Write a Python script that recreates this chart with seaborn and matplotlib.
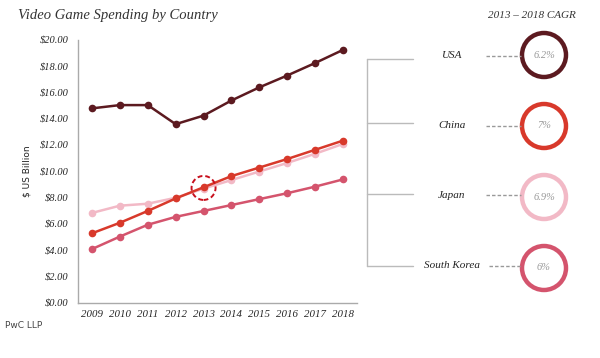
import matplotlib
matplotlib.use("Agg")
import matplotlib.pyplot as plt
from matplotlib.patches import Circle, Ellipse
import seaborn as sns
import pandas as pd

years = [2009, 2010, 2011, 2012, 2013, 2014, 2015, 2016, 2017, 2018]
usa = [14.8, 15.05, 15.05, 13.6, 14.25, 15.4, 16.4, 17.3, 18.25, 19.25]
china = [5.3, 6.1, 7.0, 7.95, 8.8, 9.65, 10.3, 10.95, 11.65, 12.35]
japan = [6.85, 7.4, 7.55, 8.0, 8.7, 9.35, 10.0, 10.65, 11.35, 12.1]
south_korea = [4.1, 5.05, 5.95, 6.55, 7.0, 7.45, 7.9, 8.35, 8.85, 9.4]
countries = ["USA", "China", "Japan", "South Korea"]
cagr = ["6.2%", "7%", "6.9%", "6%"]
colors = ["#5c1a20", "#d8392b", "#f2b9c6", "#d4546d"]
yticks = [0, 2, 4, 6, 8, 10, 12, 14, 16, 18, 20]

sns.set_style("white")
plt.rcParams["font.family"] = ["Liberation Serif", "DejaVu Serif"]

df = pd.DataFrame({
    "year": years * 4,
    "value": usa + china + japan + south_korea,
    "country": sum([[c] * len(years) for c in countries], []),
})

fig = plt.figure(figsize=(6.0, 3.58), dpi=100)
ax = fig.add_axes([78 / 600, 1 - 303 / 358, (357 - 78) / 600, (303 - 40) / 358])

pal = dict(zip(countries, colors))
for c in ["USA", "Japan", "China", "South Korea"]:
    sub = df[df.country == c]
    sns.lineplot(data=sub, x="year", y="value", color=pal[c], marker="o",
                 markersize=5.5, markeredgewidth=0, linewidth=1.8, ax=ax,
                 legend=False)

ax.set_xlim(2008.5, 2018.5)
ax.set_ylim(0, 20)
ax.set_yticks(yticks)
ax.set_yticklabels([f"${v:.2f}" for v in yticks], fontstyle="italic", fontsize=7.5)
ax.set_xticks(years)
ax.set_xticklabels([str(y) for y in years], fontstyle="italic", fontsize=7.8)
ax.set_xticks([y + 0.5 for y in years], minor=True)
ax.tick_params(axis="x", which="major", length=0, pad=5)
ax.tick_params(axis="x", which="minor", length=3, color="#aaaaaa", direction="inout")
ax.tick_params(axis="y", which="major", length=3, color="#aaaaaa", pad=4)
for s in ["top", "right"]:
    ax.spines[s].set_visible(False)
for s in ["left", "bottom"]:
    ax.spines[s].set_color("#aaaaaa")
    ax.spines[s].set_linewidth(1.0)
ax.set_xlabel("")
ax.set_ylabel("$ US Billion", family="DejaVu Sans", fontsize=6.5, labelpad=6,
              color="#222222")

# dashed highlight circle around 2013 (round in pixel space)
px_per_year = (357 - 78) / 10
px_per_unit = (303 - 40) / 20
r_px = 12
ax.add_patch(Ellipse((2013, 8.75), 2 * r_px / px_per_year, 2 * r_px / px_per_unit,
                     fill=False, edgecolor="#c8101e", linestyle=(0, (2.5, 1.5)),
                     linewidth=1.4, zorder=5))

fig.text(18 / 600, 1 - 16 / 358, "Video Game Spending by Country", fontstyle="italic",
         fontsize=10.5, va="center", ha="left", color="#333333")
fig.text(5 / 600, 1 - 326 / 358, "PwC LLP", family="DejaVu Sans", fontsize=6.5,
         va="center", ha="left", color="#444444")

# right panel overlay
ov = fig.add_axes([0, 0, 1, 1])
ov.set_xlim(0, 600)
ov.set_ylim(358, 0)
ov.axis("off")
ov.patch.set_alpha(0)

ov.text(532, 15, "2013 \u2013 2018 CAGR", fontstyle="italic", fontsize=8,
        ha="center", va="center", color="#333333")
bracket_y = [59, 123, 194, 266]
label_y = [56, 126, 195, 266]
circle_y = [55, 126, 197, 268]
ov.plot([367, 367], [bracket_y[0], bracket_y[-1]], color="#bbbbbb", lw=1)
for i, c in enumerate(countries):
    ov.plot([367, 413], [bracket_y[i], bracket_y[i]], color="#bbbbbb", lw=1)
    ov.text(452, label_y[i], c, fontstyle="italic", fontsize=8, ha="center",
            va="center", color="#222222")
    x0 = 486 if c != "South Korea" else 489
    ov.plot([x0, 521], [label_y[i], label_y[i]], color="#999999", lw=1,
            linestyle=(0, (2.5, 1.5)))
    ov.add_patch(Circle((544, circle_y[i]), 22, fill=True, facecolor="white",
                        edgecolor=colors[i], linewidth=3.2))
    ov.text(544, circle_y[i], cagr[i], fontstyle="italic", fontsize=7.5,
            ha="center", va="center", color="#999999")

fig.savefig("out.png", dpi=100)
